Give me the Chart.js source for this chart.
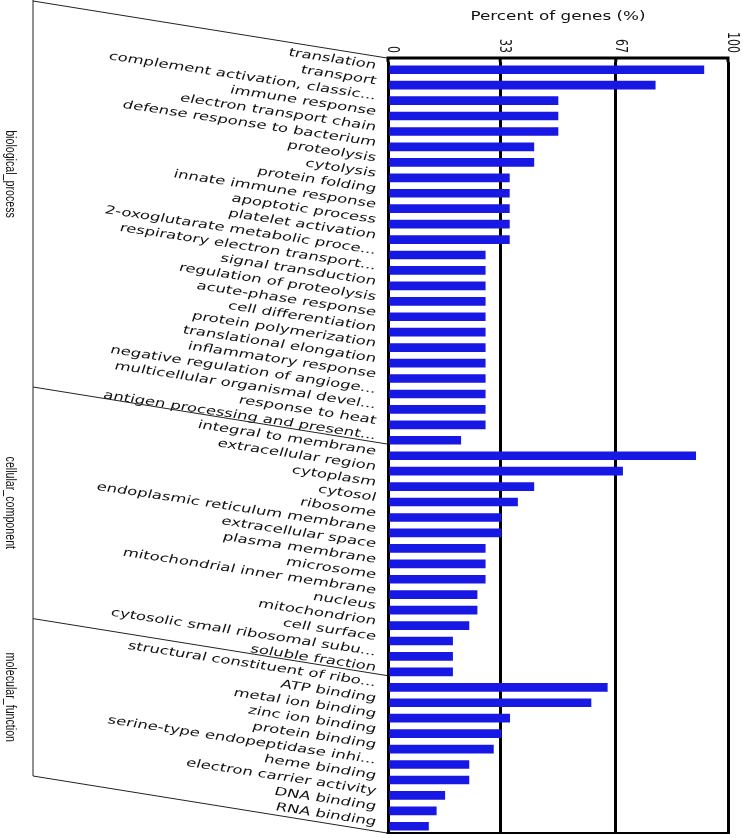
<!DOCTYPE html>
<html>
<head>
<meta charset="utf-8">
<title>GO annotation</title>
<script src="https://cdn.jsdelivr.net/npm/chart.js@4.4.1/dist/chart.umd.min.js"></script>
<style>
  html, body { margin: 0; padding: 0; background: #fff; }
  #chart { display: block; }
</style>
</head>
<body>
<canvas id="chart" width="742" height="838"></canvas>
<script>
// GO terms per category (percent of genes)
const groupNames = ['biological_process', 'cellular_component', 'molecular_function'];

const bioLabels = [
  'translation', 'transport', 'complement activation, classic...', 'immune response',
  'electron transport chain', 'defense response to bacterium', 'proteolysis', 'cytolysis',
  'protein folding', 'innate immune response', 'apoptotic process', 'platelet activation',
  '2-oxoglutarate metabolic proce...', 'respiratory electron transport...', 'signal transduction',
  'regulation of proteolysis', 'acute-phase response', 'cell differentiation',
  'protein polymerization', 'translational elongation', 'inflammatory response',
  'negative regulation of angioge...', 'multicellular organismal devel...', 'response to heat',
  'antigen processing and present...'
];
const bioValues = [
  92.9, 78.6, 50.0, 50.0, 50.0, 42.9, 42.9, 35.7, 35.7, 35.7, 35.7, 35.7,
  28.6, 28.6, 28.6, 28.6, 28.6, 28.6, 28.6, 28.6, 28.6, 28.6, 28.6, 28.6, 21.4
];

const ccLabels = [
  'integral to membrane', 'extracellular region', 'cytoplasm', 'cytosol', 'ribosome',
  'endoplasmic reticulum membrane', 'extracellular space', 'plasma membrane', 'microsome',
  'mitochondrial inner membrane', 'nucleus', 'mitochondrion', 'cell surface',
  'cytosolic small ribosomal subu...', 'soluble fraction'
];
const ccValues = [90.5, 69.0, 42.9, 38.1, 33.3, 33.3, 28.6, 28.6, 28.6, 26.2, 26.2, 23.8, 19.0, 19.0, 19.0];

const mfLabels = [
  'structural constituent of ribo...', 'ATP binding', 'metal ion binding', 'zinc ion binding',
  'protein binding', 'serine-type endopeptidase inhi...', 'heme binding',
  'electron carrier activity', 'DNA binding', 'RNA binding'
];
const mfValues = [64.5, 59.7, 35.8, 33.3, 31.0, 23.8, 23.8, 16.7, 14.2, 11.9];

const xTickValues = [0, 33, 67, 100];
const xTickLabels = ['0', '33', '67', '100'];
const axisTitle = 'Percent of genes (%)';

const labels = bioLabels.concat(ccLabels, mfLabels);
const values = bioValues.concat(ccValues, mfValues);
const groupSizes = [bioLabels.length, ccLabels.length, mfLabels.length];

// the source picture is stretched sideways, so text is drawn the same way
const STRETCH = 1.46;
const LABEL_ANGLE = Math.atan(Math.tan(8.6 * Math.PI / 180) * STRETCH);
const SLANT = 57;

function drawText(ctx, text, x, y, angle, sx, sy, align) {
  ctx.save();
  ctx.translate(x, y);
  ctx.scale(sx, sy);
  ctx.rotate(angle);
  ctx.textAlign = align;
  ctx.textBaseline = 'alphabetic';
  ctx.fillText(text, 0, 0);
  ctx.restore();
}

const goDecor = {
  id: 'goDecor',
  afterDraw(chart) {
    const ctx = chart.ctx;
    const area = chart.chartArea;
    const xs = chart.scales.x;
    const ys = chart.scales.y;
    const axisTop = area.top - 4;

    ctx.save();
    // frame: top axis line, bottom line and grid stubs above the bars
    ctx.strokeStyle = '#000';
    ctx.lineWidth = 3;
    ctx.beginPath();
    ctx.moveTo(area.left - 1.5, axisTop);
    ctx.lineTo(area.right + 1.5, axisTop);
    xTickValues.forEach(v => {
      const px = xs.getPixelForValue(v);
      ctx.moveTo(px, axisTop);
      ctx.lineTo(px, area.top);
    });
    ctx.stroke();
    ctx.lineWidth = 2;
    ctx.beginPath();
    ctx.moveTo(area.left - 1.5, area.bottom - 1);
    ctx.lineTo(area.right + 1.5, area.bottom - 1);
    ctx.stroke();

    // tick labels and axis title
    ctx.fillStyle = '#111';
    ctx.font = '11px "DejaVu Sans"';
    xTickValues.forEach((v, i) => {
      drawText(ctx, xTickLabels[i], xs.getPixelForValue(v), axisTop - 5, Math.PI / 2, STRETCH, 1, 'right');
    });
    ctx.font = '11.5px "DejaVu Sans"';
    drawText(ctx, axisTitle, (area.left + area.right) / 2, 20, 0, STRETCH, 1, 'center');

    // category labels, slanted, right end next to each bar
    ctx.font = '11.4px "DejaVu Sans"';
    labels.forEach((lab, i) => {
      drawText(ctx, lab, area.left - 13, ys.getPixelForValue(i) - 1, LABEL_ANGLE, STRETCH, 1, 'right');
    });

    // group brackets
    const leftX = 33;
    const rightX = area.left - 1;
    const ends = [axisTop];
    let idx = 0;
    groupSizes.forEach((n, gi) => {
      idx += n;
      if (gi < groupSizes.length - 1) {
        const b = (ys.getPixelForValue(idx - 1) + ys.getPixelForValue(idx)) / 2;
        ends.push(b - 4);
      } else {
        ends.push(area.bottom - 1);
      }
    });
    ctx.strokeStyle = '#222';
    ctx.lineWidth = 1;
    ctx.beginPath();
    ends.forEach(yr => {
      ctx.moveTo(leftX, Math.max(0, yr - SLANT));
      ctx.lineTo(rightX, yr);
    });
    ctx.moveTo(leftX, 0);
    ctx.lineTo(leftX, ends[ends.length - 1] - SLANT);
    ctx.stroke();

    // group names, narrow and read top to bottom
    ctx.font = '13px "Liberation Sans"';
    groupNames.forEach((name, gi) => {
      const a = Math.max(0, ends[gi] - SLANT);
      const b = ends[gi + 1] - SLANT;
      const mid = gi === 0 ? (a + b) / 2 - 20 : (a + b) / 2;
      drawText(ctx, name, 6, mid, Math.PI / 2, 1.1, 0.82, 'center');
    });
    ctx.restore();
  }
};

new Chart(document.getElementById('chart'), {
  type: 'bar',
  data: {
    labels: labels,
    datasets: [{
      data: values,
      backgroundColor: '#1818e4',
      barThickness: 8
    }]
  },
  options: {
    indexAxis: 'y',
    responsive: false,
    animation: false,
    layout: { padding: { left: 388, right: 14, top: 62, bottom: 4 } },
    plugins: {
      legend: { display: false },
      tooltip: { enabled: false }
    },
    scales: {
      x: {
        position: 'top',
        min: 0,
        max: 100,
        z: 1,
        afterBuildTicks: scale => {
          scale.ticks = xTickValues.map(v => ({ value: v }));
        },
        ticks: { display: false },
        grid: { color: '#000', lineWidth: 3, drawTicks: false },
        border: { display: false }
      },
      y: {
        display: false
      }
    }
  },
  plugins: [goDecor]
});
</script>
</body>
</html>
